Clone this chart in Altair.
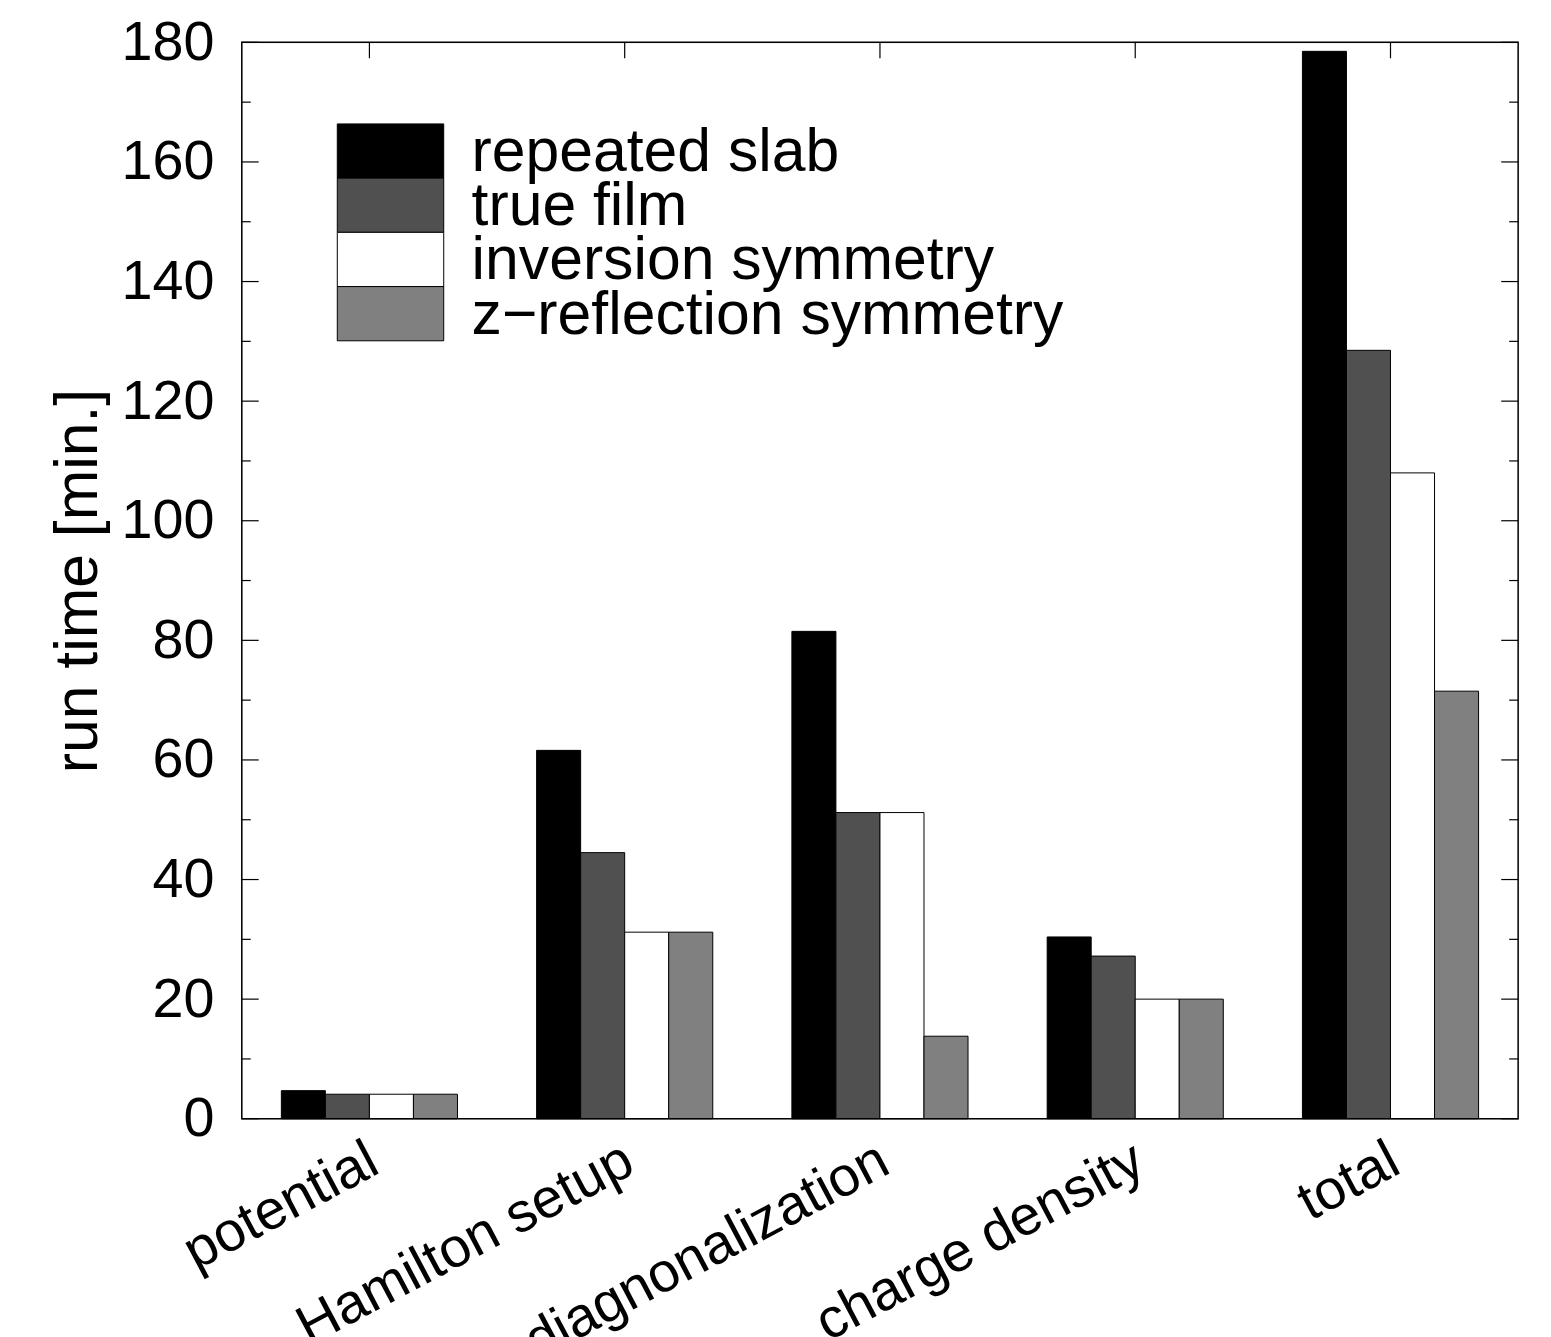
import altair as alt
import pandas as pd

categories = ["potential", "Hamilton setup", "diagnonalization", "charge density", "total"]
series = ["repeated slab", "true film", "inversion symmetry", "z\u2212reflection symmetry"]
colors = ["#000000", "#505050", "#ffffff", "#808080"]

repeated_slab = [4.7, 61.6, 81.5, 30.4, 178.5]
true_film = [4.1, 44.5, 51.2, 27.2, 128.5]
inversion_symmetry = [4.1, 31.2, 51.2, 20.0, 108.0]
z_reflection = [4.1, 31.2, 13.8, 20.0, 71.5]

y_major = [0, 20, 40, 60, 80, 100, 120, 140, 160, 180]
y_minor = [10, 30, 50, 70, 90, 110, 130, 150, 170]

W, H = 1283, 1082
FONT = "Liberation Sans"
FS = 56
FS_BIG = 61

rows = []
for s, vals in zip(series, [repeated_slab, true_film, inversion_symmetry, z_reflection]):
    for c, v in zip(categories, vals):
        rows.append({"category": c, "series": s, "value": v})
df = pd.DataFrame(rows)

xscale = alt.Scale(domain=categories, paddingInner=0.31, paddingOuter=0.155)
yscale = alt.Scale(domain=[0, 180], nice=False)
fill_scale = alt.Scale(domain=series, range=colors)

bars = alt.Chart(df).mark_bar(stroke="black", strokeWidth=1).encode(
    x=alt.X("category:N", sort=categories, scale=xscale,
            axis=alt.Axis(title=None, labelAngle=-28, labelAlign="right", labelBaseline="top",
                          labelFontSize=FS, labelFont=FONT, labelColor="black",
                          labelPadding=14, labelOffset=-8, ticks=False, domain=False,
                          labelLimit=1000)),
    xOffset=alt.XOffset("series:N", sort=series, scale=alt.Scale(domain=series, paddingInner=0, paddingOuter=0)),
    y=alt.Y("value:Q", scale=yscale,
            axis=alt.Axis(title="run time [min.]", values=y_major, labelFontSize=FS, labelFont=FONT,
                          labelColor="black", titleFontSize=FS_BIG, titleFont=FONT, titleFontWeight="normal",
                          titleColor="black", labelPadding=28, titlePadding=12,
                          ticks=False, domain=False, grid=False)),
    fill=alt.Fill("series:N", scale=fill_scale, legend=None),
)

major_df = pd.DataFrame({"v": y_major})
minor_df = pd.DataFrame({"v": y_minor})

def yticks(d, length):
    left = alt.Chart(d).mark_rule(color="black", strokeWidth=1.2).encode(
        y=alt.Y("v:Q", scale=yscale), x=alt.value(0), x2=alt.value(length))
    right = alt.Chart(d).mark_rule(color="black", strokeWidth=1.2).encode(
        y=alt.Y("v:Q", scale=yscale), x=alt.value(W - length), x2=alt.value(W))
    return left + right

cat_df = pd.DataFrame({"category": categories})
top_ticks = alt.Chart(cat_df).mark_rule(color="black", strokeWidth=1.2).encode(
    x=alt.X("category:N", sort=categories, scale=xscale), y=alt.value(0), y2=alt.value(16))
bottom_ticks = alt.Chart(cat_df).mark_rule(color="black", strokeWidth=1.2).encode(
    x=alt.X("category:N", sort=categories, scale=xscale), y=alt.value(H - 16), y2=alt.value(H))

frame = alt.Chart(pd.DataFrame({"f": [0]})).mark_rect(
    fill="white", fillOpacity=0, stroke="black", strokeWidth=1.5).encode(
    x=alt.value(0), x2=alt.value(W), y=alt.value(0), y2=alt.value(H))

leg_df = pd.DataFrame({"series": series})
leg_y = alt.Scale(domain=series, range=[82, 300], paddingInner=0, paddingOuter=0)
leg_boxes = alt.Chart(leg_df).mark_rect(stroke="black", strokeWidth=1).encode(
    x=alt.value(96), x2=alt.value(203),
    y=alt.Y("series:N", sort=series, scale=leg_y, axis=None),
    fill=alt.Fill("series:N", scale=fill_scale, legend=None),
)
leg_text = alt.Chart(leg_df).mark_text(align="left", baseline="middle", font=FONT, fontSize=FS_BIG,
                                       color="black", dy=2).encode(
    x=alt.value(231),
    y=alt.Y("series:N", sort=series, scale=leg_y, axis=None),
    text="series:N",
)
legend = (leg_boxes + leg_text)

main = alt.layer(bottom_ticks, bars, yticks(major_df, 17), yticks(minor_df, 9), top_ticks, frame)

chart = alt.layer(main, legend).resolve_scale(y="independent").properties(
    width=W, height=H,
    autosize=alt.AutoSizeParams(type="none"),
    padding={"left": 235, "top": 31, "right": 25, "bottom": 240},
).configure_view(stroke=None).configure(background="white")

chart.save("out.html", embed_options={"renderer": "svg", "actions": False})
